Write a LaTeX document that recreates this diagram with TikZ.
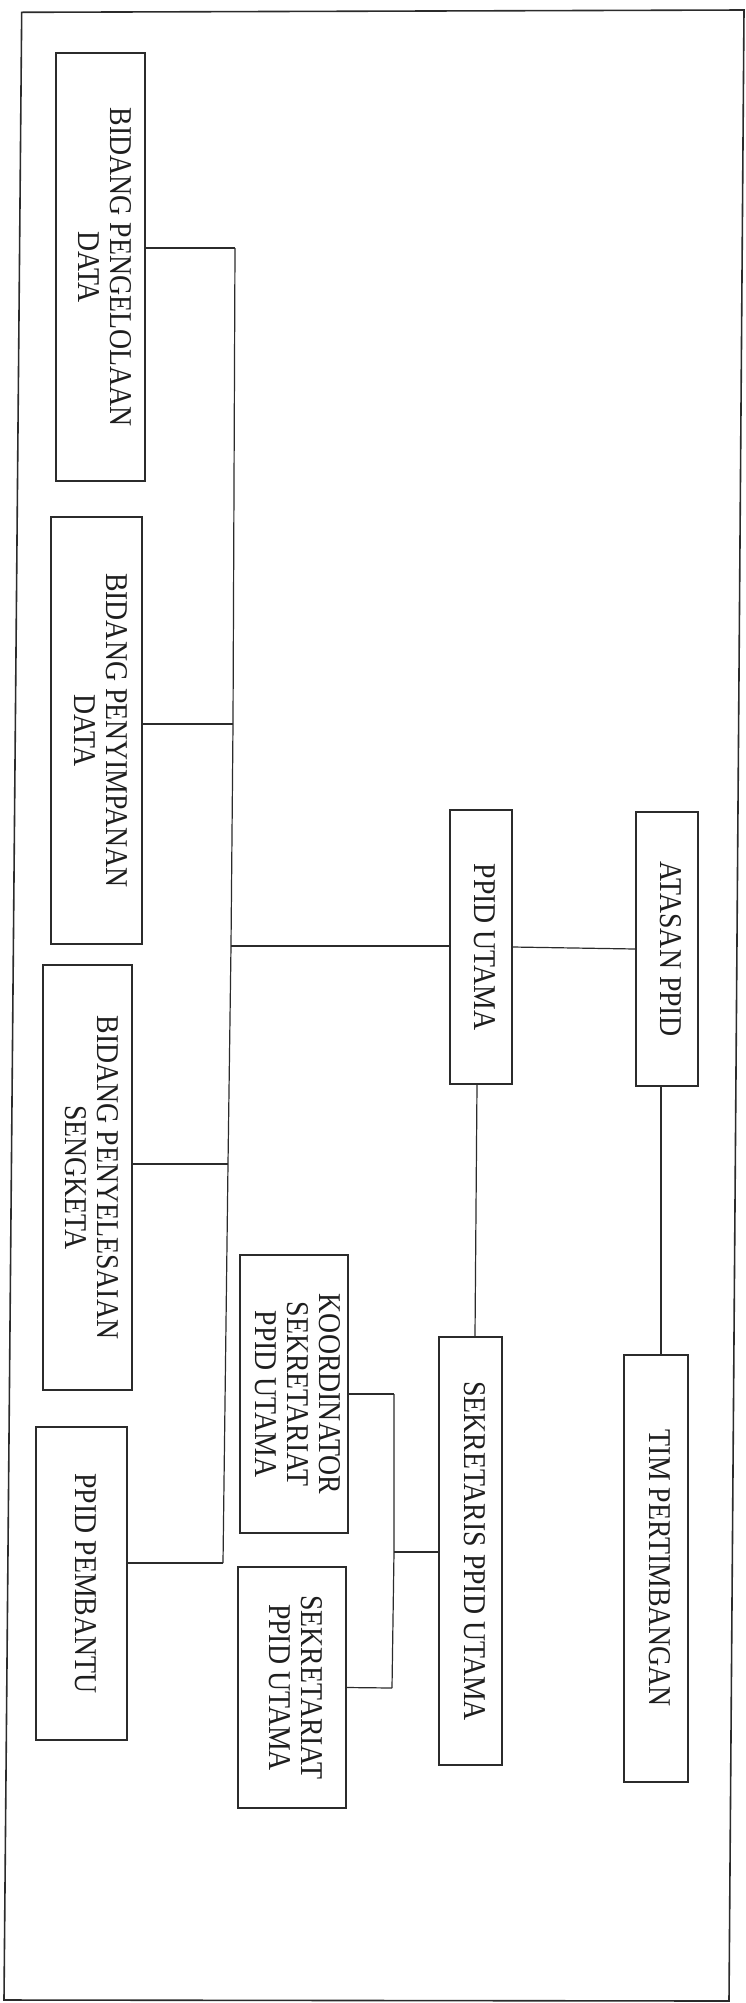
\documentclass[tikz,border=0pt]{standalone}
\usepackage{graphicx}
\usepackage{fontspec}
\setmainfont{Liberation Serif}
\definecolor{ink}{HTML}{2B2B2B}
\definecolor{txt}{HTML}{1E1E1E}
\tikzset{
  box/.style={draw=ink, line width=1.4pt, inner sep=0pt, text=txt, font=\fontsize{27.8}{28}\selectfont},
  conn/.style={draw=ink, line width=1.2pt},
  frameline/.style={draw=ink, line width=1.6pt}
}
\newcommand{\orgtxt}[1]{\rotatebox{-90}{\scalebox{1}[1.14]{\begin{tabular}{@{}c@{}}#1\end{tabular}}}}
\begin{document}
\begin{tikzpicture}[x=1pt,y=-1pt]
\useasboundingbox (0,0) rectangle (746,2003);
\draw[frameline] (21.7,12.3) -- (744,10) -- (729,2001) -- (4,2000) -- cycle;

% left column
\node[box, minimum width=89pt, minimum height=428pt] (bpd) at (100.5,267) {\orgtxt{BIDANG PENGELOLAAN\\DATA}};
\node[box, minimum width=91pt, minimum height=427pt] (bpy) at (96.5,730.5) {\orgtxt{BIDANG PENYIMPANAN\\DATA}};
\node[box, minimum width=89pt, minimum height=425pt] (bps) at (87.5,1177.5) {\orgtxt{BIDANG PENYELESAIAN\\SENGKETA}};
\node[box, minimum width=91pt, minimum height=313pt] (pembantu) at (81.5,1583.5) {\orgtxt{PPID PEMBANTU}};

% middle / right
\node[box, minimum width=62pt, minimum height=274pt] (ppidutama) at (481,947) {\orgtxt{PPID UTAMA}};
\node[box, minimum width=62pt, minimum height=274pt] (atasan) at (667,949) {\orgtxt{ATASAN PPID}};
\node[box, minimum width=63pt, minimum height=428pt] (sekretaris) at (470.5,1551) {\orgtxt{SEKRETARIS PPID UTAMA}};
\node[box, minimum width=64pt, minimum height=427pt] (tim) at (656,1568.5) {\orgtxt{TIM PERTIMBANGAN}};
\node[box, minimum width=108pt, minimum height=278pt] (koord) at (294,1394) {\orgtxt{KOORDINATOR\\SEKRETARIAT\\PPID UTAMA}};
\node[box, minimum width=108pt, minimum height=241pt] (sekretariat) at (292,1687.5) {\orgtxt{SEKRETARIAT\\PPID UTAMA}};

% bus
\coordinate (j1) at (235,248);
\coordinate (j2) at (233,724);
\coordinate (j3) at (231,946);
\coordinate (j4) at (228,1164);
\coordinate (j5) at (223,1563);
\draw[conn] (j1) -- (j2) -- (j3) -- (j4) -- (j5);
\draw[conn] (bpd.east |- j1) -- (j1);
\draw[conn] (bpy.east |- j2) -- (j2);
\draw[conn] (j3) -- (ppidutama.west |- j3);
\draw[conn] (bps.east |- j4) -- (j4);
\draw[conn] (pembantu.east |- j5) -- (j5);

\draw[conn] (ppidutama.east) -- (atasan.west);
\draw[conn] ([xshift=-4pt]ppidutama.south) -- ([xshift=4.5pt]sekretaris.north);
\draw[conn] ([xshift=-6pt]atasan.south) -- ([xshift=5pt]tim.north);

% secretariat tree
\coordinate (k1) at (394,1394);
\coordinate (k2) at (394,1552);
\coordinate (k3) at (392,1688);
\draw[conn] (koord.east) -- (k1);
\draw[conn] (k1) -- (k2) -- (k3);
\draw[conn] (k2) -- (sekretaris.west |- k2);
\draw[conn] (sekretariat.east) -- (k3);
\end{tikzpicture}
\end{document}
